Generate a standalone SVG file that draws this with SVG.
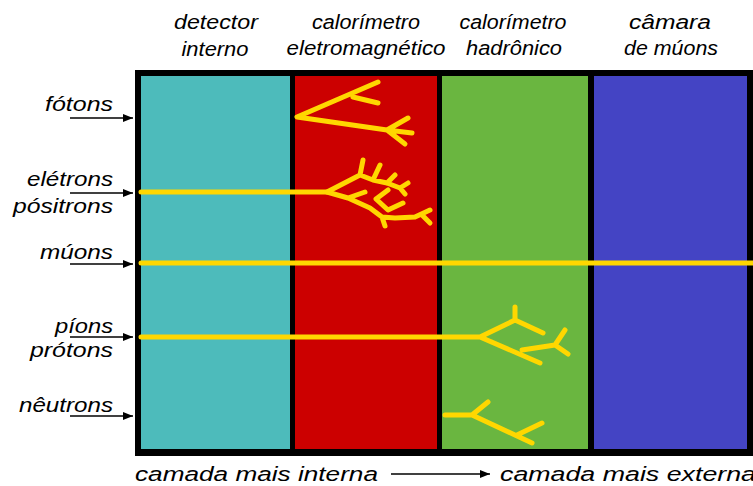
<svg xmlns="http://www.w3.org/2000/svg" width="753" height="486" viewBox="0 0 753 486">
  <defs>
    <marker id="head" viewBox="0 0 10 10" refX="10" refY="5" markerWidth="15" markerHeight="10" markerUnits="userSpaceOnUse" orient="auto">
      <path d="M0,1 L10,5 L0,9 Z" fill="#000"/>
    </marker>
    <style>
      text { font-family: "Liberation Sans", Arial, sans-serif; font-style: italic; font-size: 20px; fill: #000; }
      .lbl { text-anchor: end; }
      .arrow { stroke: #000; stroke-width: 1.5; fill: none; marker-end: url(#head); }
      .track { stroke: #FFD700; stroke-width: 5; fill: none; stroke-linecap: round; stroke-linejoin: round; }
    </style>
  </defs>

  <rect width="753" height="486" fill="#fff"/>

  <!-- detector layers -->
  <g id="frame"><rect x="135" y="70" width="625" height="386" fill="#000"/></g>
  <g id="inner-detector">
    <rect x="141" y="76" width="149" height="373" fill="#4DBBBB"/>
    <text x="216" y="29" text-anchor="middle" textLength="84" lengthAdjust="spacingAndGlyphs">detector</text>
    <text x="215" y="56" text-anchor="middle" textLength="67" lengthAdjust="spacingAndGlyphs">interno</text>
  </g>
  <g id="em-calorimeter">
    <rect x="295" y="76" width="142" height="373" fill="#CC0000"/>
    <text x="366" y="29" text-anchor="middle" textLength="108" lengthAdjust="spacingAndGlyphs">calorímetro</text>
    <text x="366" y="55" text-anchor="middle" textLength="159" lengthAdjust="spacingAndGlyphs">eletromagnético</text>
  </g>
  <g id="hadronic-calorimeter">
    <rect x="442" y="76" width="146" height="373" fill="#6AB640"/>
    <text x="513" y="29" text-anchor="middle" textLength="107" lengthAdjust="spacingAndGlyphs">calorímetro</text>
    <text x="514" y="55" text-anchor="middle" textLength="96" lengthAdjust="spacingAndGlyphs">hadrônico</text>
  </g>
  <g id="muon-chamber">
    <rect x="594" y="76" width="153" height="373" fill="#4444C4"/>
    <text x="670" y="29" text-anchor="middle" textLength="82" lengthAdjust="spacingAndGlyphs">câmara</text>
    <text x="671" y="55" text-anchor="middle" textLength="94" lengthAdjust="spacingAndGlyphs">de múons</text>
  </g>

  <!-- particle tracks and showers -->
  <g id="tracks">
    <!-- photon shower -->
    <path class="track" d="M378,82 L297,117 L387,130 L412,133 M353,97 L378,103 M387,130 L408,118 M387,130 L405,144"/>
    <!-- electron / positron shower: upper branch -->
    <path class="track" d="M141,192 L327,192 L360,175 L373,180 L387,183 L400,188 L405,194 M360,175 L363,160 M373,180 L380,165 M387,183 L395,175 M400,188 L408,183"/>
    <!-- electron / positron shower: lower branch -->
    <path class="track" d="M327,192 L348,198 L365,192 M348,198 L370,208 L382,217 L395,218 L415,217 L430,210 M422,215 L430,223 M382,217 L385,226 M376,199 L388,190 M376,199 L388,210 L403,203"/>
    <!-- muon track -->
    <path class="track" d="M141,263 L753,263" stroke-linecap="butt"/>
    <!-- pion / proton shower -->
    <path class="track" d="M141,337 L480,337 L515,320 L543,333 M515,320 L515,307 M480,337 L540,363 M522,350 L555,345 L565,330 M555,345 L568,354"/>
    <!-- neutron shower -->
    <path class="track" d="M445,415 L472,415 L488,402 M472,415 L532,443 M517,435 L542,423"/>
  </g>

  <!-- incoming particle labels -->
  <g id="labels">
    <text class="lbl" x="113" y="111" textLength="68" lengthAdjust="spacingAndGlyphs">fótons</text>
    <text class="lbl" x="113" y="186" textLength="86" lengthAdjust="spacingAndGlyphs">elétrons</text>
    <text class="lbl" x="113" y="213" textLength="100" lengthAdjust="spacingAndGlyphs">pósitrons</text>
    <text class="lbl" x="113" y="259" textLength="73" lengthAdjust="spacingAndGlyphs">múons</text>
    <text class="lbl" x="113" y="333" textLength="58" lengthAdjust="spacingAndGlyphs">píons</text>
    <text class="lbl" x="113" y="357" textLength="83" lengthAdjust="spacingAndGlyphs">prótons</text>
    <text class="lbl" x="113" y="412" textLength="94" lengthAdjust="spacingAndGlyphs">nêutrons</text>
    <text x="135" y="481" textLength="243" lengthAdjust="spacingAndGlyphs">camada mais interna</text>
    <text x="500" y="481" textLength="256" lengthAdjust="spacingAndGlyphs">camada mais externa</text>
  </g>

  <!-- connectors -->
  <g id="connectors">
    <line class="arrow" x1="70" y1="118" x2="133" y2="118"/>
    <line class="arrow" x1="70" y1="193" x2="133" y2="193"/>
    <line class="arrow" x1="70" y1="264" x2="133" y2="264"/>
    <line class="arrow" x1="70" y1="337" x2="133" y2="337"/>
    <line class="arrow" x1="70" y1="416" x2="133" y2="416"/>
    <line class="arrow" x1="391" y1="474" x2="490" y2="474"/>
  </g>
</svg>
